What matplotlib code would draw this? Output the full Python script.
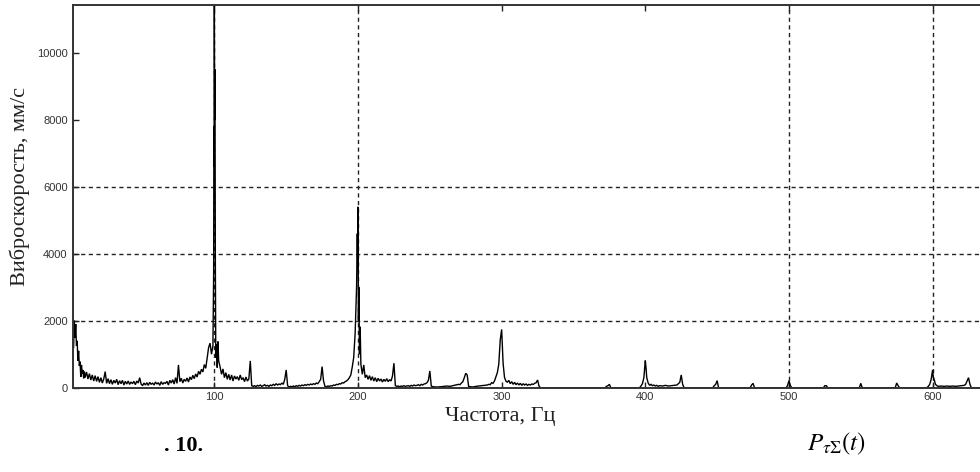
import matplotlib
matplotlib.use("Agg")
import matplotlib.pyplot as plt

# ---------------- data ----------------
band_a_f = [2, 2.5, 3, 3.5, 4, 4.5, 5, 5.5, 6, 6.5, 7, 7.5, 8, 8.5, 9, 9.5, 10,
            11, 12, 13, 14, 15, 16, 17, 18, 19, 20, 21, 22, 23, 24, 25, 26, 27, 28, 29, 30,
            31, 32, 33, 34, 35, 36, 37, 38, 39, 40, 41, 42, 43, 44, 45, 46, 47, 48, 49, 50,
            51, 52, 53, 54, 55, 56, 57, 58, 59, 60, 61, 62, 63, 64, 65, 66, 67, 68, 69, 70,
            71, 72, 73, 74, 75, 76, 77, 78, 79, 80, 81, 82, 83, 84, 85, 86, 87, 88, 89, 90,
            91, 92, 93, 94, 95, 96, 97, 98, 99]
band_a_v = [1200, 2000, 1500, 1900, 1250, 1400, 800, 1100, 650, 780, 320, 680, 420, 530, 280, 480, 300,
            470, 260, 420, 230, 380, 200, 360, 190, 330, 160, 300, 140, 260, 480, 130, 270, 120, 240, 100, 220,
            140, 250, 90, 210, 120, 220, 80, 190, 110, 200, 100, 170, 120, 190, 90, 200, 140, 300, 110, 60,
            140, 80, 150, 70, 160, 100, 140, 80, 170, 110, 150, 70, 180, 100, 150, 130, 190, 80, 220, 140,
            240, 110, 300, 130, 680, 180, 280, 140, 250, 190, 290, 170, 320, 240, 370, 270, 410, 320, 490, 400,
            550, 470, 690, 580, 880, 1200, 1330, 1000, 1250]

band_b_f = [99.5, 99.7, 99.8, 100, 100.2, 100.4, 100.7, 101, 101.5, 102, 102.5, 103, 104, 105,
            106, 107, 108, 109, 110, 111, 112, 113, 114, 115, 116, 117, 118, 119, 120, 121, 122, 123,
            124, 125, 126, 127, 128, 129, 130, 131, 132, 133, 134, 135, 136, 137, 138, 139, 140, 141,
            142, 143, 144, 145, 146, 147, 148, 149, 150, 151, 152, 153, 154, 155, 156, 157, 158, 159,
            160, 161, 162, 163, 164, 165, 166, 167, 168, 169, 170, 171, 172, 173, 174, 175, 176, 177,
            178, 179, 180, 181, 182, 183, 184, 185, 186, 187, 188, 189, 190, 191, 192, 193, 194, 195,
            196, 197, 198, 199]
band_b_v = [3400, 7800, 6600, 11400, 8000, 9500, 3600, 900, 1300, 600, 1380, 800, 620, 400,
            560, 300, 450, 250, 400, 230, 380, 200, 350, 260, 330, 220, 380, 240, 300, 180, 320, 200,
            260, 800, 60, 40, 60, 30, 70, 50, 80, 40, 60, 90, 50, 70, 40, 80, 60, 100,
            70, 120, 80, 110, 90, 140, 100, 250, 530, 60, 20, 40, 30, 50, 30, 60, 40, 70,
            50, 80, 60, 90, 70, 100, 80, 110, 90, 120, 100, 140, 120, 180, 250, 630, 200, 40,
            30, 50, 40, 60, 50, 80, 70, 100, 90, 120, 110, 150, 140, 180, 200, 240, 300, 380,
            620, 900, 1620, 3000]

band_c_f = [199.5, 199.8, 200, 200.3, 200.6, 201, 201.5, 202, 203, 204, 205, 206, 207, 208, 209,
            210, 211, 212, 213, 214, 215, 216, 217, 218, 219, 220, 221, 222, 223, 224, 225, 226,
            227, 228, 229, 230, 231, 232, 233, 234, 235, 236, 237, 238, 239, 240, 241, 242, 243,
            244, 245, 246, 247, 248, 249, 250, 251, 252, 255, 258, 260, 262, 264, 266, 268, 270,
            271, 272, 273, 274, 275, 276, 277, 278, 280, 282, 284, 286, 288, 290, 291, 292, 293,
            294, 295, 296, 297, 298, 299, 300]
band_c_v = [4600, 3600, 5400, 2000, 3000, 1000, 1820, 700, 400, 680, 300, 380, 250, 360, 220,
            330, 200, 300, 180, 280, 200, 260, 170, 250, 190, 270, 180, 240, 200, 350, 730, 60,
            40, 50, 30, 50, 40, 60, 40, 50, 60, 40, 70, 50, 80, 60, 70, 90, 60,
            100, 80, 110, 120, 150, 220, 500, 50, 30, 20, 30, 40, 50, 40, 60, 80, 100,
            90, 140, 180, 300, 430, 380, 40, 30, 20, 40, 50, 60, 70, 80, 100, 90, 150,
            130, 200, 330, 450, 700, 1420, 1740]

band_d_f = [300.5, 301, 302, 303, 304, 305, 306, 307, 308, 309, 310, 311, 312, 313, 314, 315,
            316, 317, 318, 319, 320, 321, 322, 323, 324, 325, 326, 327, 372, 373, 374, 375, 376,
            396, 397, 398, 399, 400, 400.5, 401, 402, 403, 404, 405, 406, 407, 408, 409, 410, 412,
            414, 416, 418, 420, 422, 423, 424, 425, 426, 427, 447, 448, 449, 450, 451, 473, 474,
            475, 476, 498, 499, 500, 501, 502, 524, 525, 526, 527, 549, 550, 551, 574, 575, 576,
            577, 596, 597, 598, 599, 600, 600.5, 601, 602, 603, 604, 606, 608, 610, 612, 614,
            616, 618, 620, 622, 623, 624, 625, 626, 627, 635]
band_d_v = [1200, 730, 300, 200, 160, 220, 120, 180, 100, 160, 90, 140, 80, 130, 70, 120,
            80, 110, 70, 100, 80, 110, 100, 130, 150, 230, 50, 0, 0, 40, 60, 100, 0,
            0, 50, 120, 300, 810, 600, 300, 140, 70, 100, 60, 80, 50, 70, 40, 60, 50,
            70, 50, 60, 70, 80, 120, 160, 380, 100, 0, 0, 60, 100, 210, 0, 0, 80,
            130, 0, 0, 60, 210, 60, 0, 0, 60, 60, 0, 0, 130, 0, 0, 140, 60,
            0, 0, 40, 100, 250, 530, 300, 260, 100, 60, 40, 50, 40, 50, 40, 50,
            40, 50, 60, 70, 100, 200, 300, 100, 0, 0]

x_ticks = [100, 200, 300, 400, 500, 600]
x_tick_labels = ["100", "200", "300", "400", "500", "600"]
y_ticks = [0, 2000, 4000, 6000, 8000, 10000]
y_tick_labels = ["0", "2000", "4000", "6000", "8000", "10000"]
x_grid = [100, 200, 500, 600]
y_grid = [2000, 4000, 6000]

freq = band_a_f + band_b_f + band_c_f + band_d_f
vel = band_a_v + band_b_v + band_c_v + band_d_v

# ---------------- figure ----------------
plt.rcParams["mathtext.fontset"] = "stix"
W, H = 980, 472
fig = plt.figure(figsize=(W / 100, H / 100), dpi=100)
fig.patch.set_facecolor("white")

left, bottom, top = 73.3, 387.7, 5.3
ax = fig.add_axes([left / W, 1 - bottom / H, 1 - left / W, (bottom - top) / H])
ax.set_facecolor("white")

ax.plot(freq, vel, color="black", lw=1.0, solid_joinstyle="miter")

ax.set_xlim(1.8, 633)
ax.set_ylim(0, 11415)

for gx in x_grid:
    ax.axvline(gx, color="#222222", lw=1.0, ls=(0, (3, 2.5)), zorder=0.5)
for gy in y_grid:
    ax.axhline(gy, color="#222222", lw=1.0, ls=(0, (3, 2.5)), zorder=0.5)

ax.set_xticks(x_ticks)
ax.set_xticklabels(x_tick_labels)
ax.set_yticks(y_ticks)
ax.set_yticklabels(y_tick_labels)
ax.tick_params(axis="both", direction="in", length=4, width=1.0, color="#222222",
               labelsize=8, labelcolor="#333333", top=True)
ax.tick_params(axis="x", pad=3)
ax.tick_params(axis="y", pad=4)
for lab in ax.get_xticklabels() + ax.get_yticklabels():
    lab.set_fontfamily("Liberation Sans")

for s in ["left", "bottom", "top"]:
    ax.spines[s].set_linewidth(1.4)
    ax.spines[s].set_color("#333333")
ax.spines["right"].set_visible(False)

fig.text(20 / W, 1 - 186 / H, "Виброскорость, мм/с", rotation=90, ha="center", va="center",
         fontsize=16, family="Liberation Serif", color="#222222")
fig.text(500 / W, 1 - 416 / H, "Частота, Гц", ha="center", va="center",
         fontsize=16, family="Liberation Serif", color="#222222")
fig.text(184 / W, 1 - 446 / H, ". 10.", ha="center", va="center",
         fontsize=16, family="Liberation Serif", weight="bold", color="black")
fig.text(836 / W, 1 - 444 / H, r"$P_{\tau\Sigma}(t)$", ha="center", va="center",
         fontsize=18, color="black")

fig.savefig("out.png", dpi=100, facecolor="white")
